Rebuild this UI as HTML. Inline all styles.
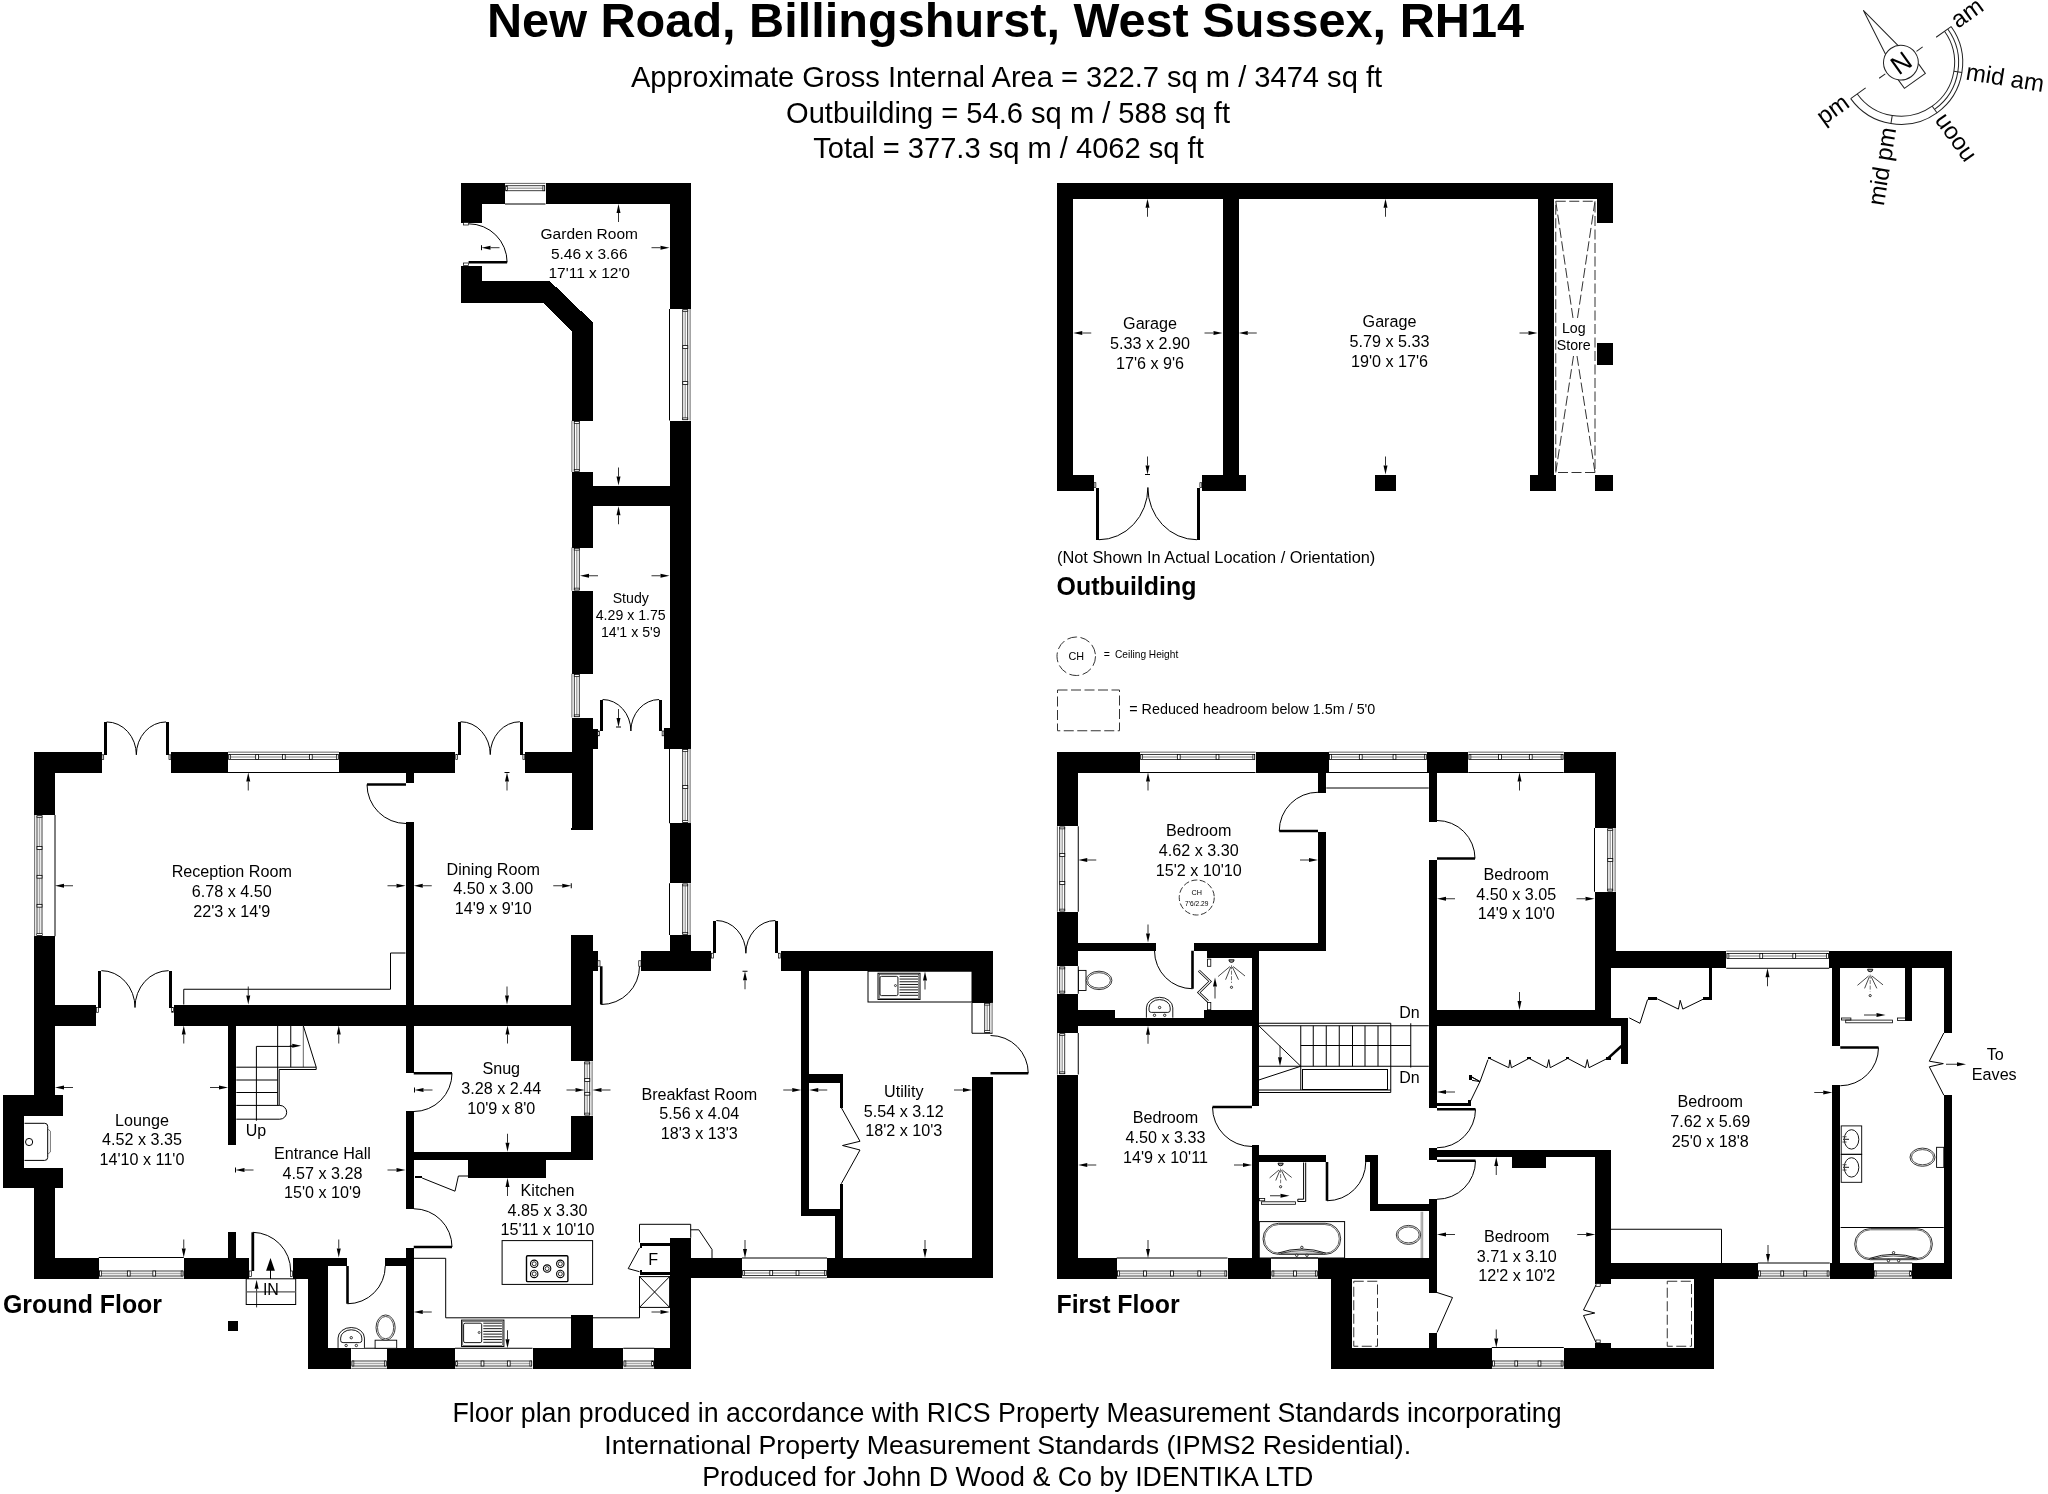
<!DOCTYPE html>
<html><head><meta charset="utf-8"><title>Floor plan</title>
<style>html,body{margin:0;padding:0;background:#fff}svg{display:block;filter:grayscale(1)}</style></head>
<body>
<svg width="2048" height="1494" viewBox="0 0 2048 1494">
<rect width="2048" height="1494" fill="#fff"/>
<g fill="#000" stroke="none" shape-rendering="crispEdges">
<rect x="460.5" y="183" width="44.5" height="21"/>
<rect x="545.5" y="183" width="145.0" height="21"/>
<rect x="460.5" y="183" width="21.0" height="39.5"/>
<rect x="460.5" y="265.75" width="21.0" height="36.75"/>
<polygon points="460.5,281.25 550,281.25 592.5,322 592.5,420.75 571.5,420.75 571.5,331.25 543,302.5 460.5,302.5"/>
<rect x="669.5" y="183" width="21.0" height="126"/>
<rect x="669.5" y="420.5" width="21.0" height="328.25"/>
<rect x="571.5" y="472" width="21.0" height="75.5"/>
<rect x="571.5" y="485.5" width="119.0" height="20.75"/>
<rect x="571.5" y="590.75" width="21.0" height="83.0"/>
<rect x="571.5" y="717.5" width="21.0" height="111.25"/>
<rect x="571.5" y="728.75" width="26.0" height="20.0"/>
<rect x="664.25" y="728.25" width="26.25" height="20.5"/>
<rect x="34.25" y="751.75" width="67.25" height="20.75"/>
<rect x="171" y="751.75" width="57" height="20.75"/>
<rect x="339" y="751.75" width="116" height="20.75"/>
<rect x="525" y="751.75" width="67.5" height="20.75"/>
<rect x="34.25" y="751.75" width="20.75" height="63.25"/>
<rect x="34.25" y="936.25" width="20.75" height="180.0"/>
<rect x="34.25" y="1167.5" width="20.75" height="111.25"/>
<rect x="3" y="1095" width="60" height="21.25"/>
<rect x="3" y="1167.5" width="60" height="20.5"/>
<rect x="3" y="1095" width="21.25" height="93"/>
<rect x="405.5" y="772.5" width="8.25" height="10.5"/>
<rect x="405.5" y="821.75" width="8.25" height="182.75"/>
<rect x="34.25" y="1004.5" width="62.0" height="21.0"/>
<rect x="173.75" y="1004.5" width="418.75" height="21.0"/>
<rect x="228.3" y="1025.5" width="8.0" height="119.0"/>
<rect x="228.3" y="1232" width="8.0" height="25.5"/>
<rect x="405.5" y="1025.5" width="8.25" height="47.0"/>
<rect x="405.5" y="1111.25" width="8.25" height="97.5"/>
<rect x="405.5" y="1247.5" width="8.25" height="100.75"/>
<rect x="34.25" y="1257.5" width="64.5" height="21.25"/>
<rect x="183.75" y="1257.5" width="65.0" height="21.25"/>
<rect x="292.5" y="1257.5" width="54.25" height="8.75"/>
<rect x="292.5" y="1257.5" width="35.75" height="21.25"/>
<rect x="385" y="1257.5" width="20.5" height="8.0"/>
<rect x="308" y="1257.5" width="20.25" height="111.25"/>
<rect x="308" y="1348.25" width="43.25" height="20.5"/>
<rect x="387" y="1348.25" width="68" height="20.5"/>
<rect x="228" y="1320.5" width="10.25" height="10.0"/>
<rect x="571.25" y="1025.5" width="21.25" height="35.75"/>
<rect x="571.25" y="1115.75" width="21.25" height="44.25"/>
<rect x="413.75" y="1151.75" width="178.75" height="8.25"/>
<rect x="468" y="1160" width="77.75" height="18"/>
<rect x="669.5" y="1237.5" width="21.0" height="131.25"/>
<rect x="669.5" y="1258" width="72.5" height="20.25"/>
<rect x="532.5" y="1348.25" width="90.75" height="20.5"/>
<rect x="654.25" y="1348.25" width="36.25" height="20.5"/>
<rect x="571.25" y="1315" width="21.25" height="33.25"/>
<rect x="571.25" y="828" width="21.25" height="1.5"/>
<rect x="571.25" y="935" width="21.25" height="126.25"/>
<rect x="571.25" y="950.5" width="26.25" height="20.25"/>
<rect x="669.5" y="823.25" width="21.0" height="60.0"/>
<rect x="669.5" y="935" width="21.0" height="17"/>
<rect x="641.25" y="950.5" width="70.0" height="20.25"/>
<rect x="780.5" y="950.5" width="212.0" height="20.25"/>
<rect x="972" y="950.5" width="20.5" height="52.0"/>
<rect x="972" y="1076.75" width="20.5" height="201.5"/>
<rect x="827" y="1258" width="165.5" height="20.25"/>
<rect x="801.25" y="970.75" width="8.0" height="245.5"/>
<rect x="809.25" y="1074.25" width="33.75" height="8.25"/>
<rect x="839.5" y="1082.5" width="3.5" height="25.0"/>
<rect x="839.5" y="1183.75" width="3.5" height="25.5"/>
<rect x="801.25" y="1209.25" width="41.75" height="7.0"/>
<rect x="835" y="1216.25" width="7.5" height="41.75"/>
<rect x="1057" y="183" width="556.25" height="15.75"/>
<rect x="1057" y="183" width="16.25" height="307.75"/>
<rect x="1057" y="474.5" width="36.75" height="16.25"/>
<rect x="1202" y="474.5" width="44.25" height="16.25"/>
<rect x="1222.5" y="198.75" width="16.25" height="275.75"/>
<rect x="1374.5" y="474.5" width="21.25" height="16.25"/>
<rect x="1537.5" y="198.75" width="16.25" height="275.75"/>
<rect x="1529.5" y="474.5" width="26.75" height="16.25"/>
<rect x="1597" y="198.75" width="16.25" height="23.75"/>
<rect x="1597" y="343.25" width="16.25" height="21.25"/>
<rect x="1594.5" y="474.5" width="18.75" height="16.25"/>
<rect x="1057" y="751.75" width="83" height="20.75"/>
<rect x="1255.5" y="751.75" width="73.25" height="20.75"/>
<rect x="1427" y="751.75" width="41.25" height="20.75"/>
<rect x="1563.75" y="751.75" width="51.75" height="20.75"/>
<rect x="1057" y="751.75" width="21.25" height="74.5"/>
<rect x="1057" y="911.75" width="21.25" height="54.5"/>
<rect x="1057" y="993.75" width="21.25" height="39.25"/>
<rect x="1057" y="1074.5" width="21.25" height="204.25"/>
<rect x="1318" y="772.5" width="8.25" height="20.5"/>
<rect x="1318" y="831.75" width="8.25" height="119.0"/>
<rect x="1078.25" y="942.5" width="77.25" height="8.25"/>
<rect x="1193.75" y="942.5" width="132.5" height="8.25"/>
<rect x="1252" y="950.75" width="6.75" height="155.5"/>
<rect x="1206.75" y="950.75" width="45.25" height="7.25"/>
<rect x="1057" y="1017.5" width="201.75" height="8.25"/>
<rect x="1078.25" y="1009.5" width="36.25" height="8.0"/>
<rect x="1204.25" y="1009.5" width="47.75" height="8.0"/>
<rect x="1428.75" y="772.5" width="8.25" height="49.25"/>
<rect x="1428.75" y="860" width="8.25" height="248"/>
<rect x="1428.75" y="1147.5" width="8.25" height="12.0"/>
<rect x="1428.75" y="1199.25" width="8.25" height="93.25"/>
<rect x="1428.75" y="1332.5" width="8.25" height="15.5"/>
<rect x="1428.75" y="1010" width="165.75" height="15.75"/>
<rect x="1594.5" y="1017.5" width="33.5" height="8.25"/>
<rect x="1594.5" y="751.75" width="21.0" height="76.25"/>
<rect x="1594.5" y="891.75" width="21.0" height="76.5"/>
<rect x="1594.5" y="968.25" width="16.0" height="49.25"/>
<rect x="1620.75" y="1017.5" width="7.25" height="46.75"/>
<rect x="1594.5" y="950.75" width="131.75" height="17.5"/>
<rect x="1829.25" y="950.75" width="122.25" height="17.5"/>
<rect x="1832.25" y="968.25" width="8.0" height="78.0"/>
<rect x="1832.25" y="1085" width="8.0" height="178"/>
<rect x="1943.5" y="950.75" width="8.0" height="82.25"/>
<rect x="1943.5" y="1095" width="8.0" height="183.75"/>
<rect x="1904.75" y="968.25" width="7.5" height="52.25"/>
<rect x="1595.25" y="1263" width="162.5" height="15.75"/>
<rect x="1829.75" y="1263" width="43.75" height="15.75"/>
<rect x="1912.25" y="1263" width="39.25" height="15.75"/>
<rect x="1437" y="1150" width="173.5" height="7"/>
<rect x="1512" y="1157" width="34" height="10.75"/>
<rect x="1595.25" y="1150" width="15.25" height="133.75"/>
<rect x="1595.25" y="1342.5" width="15.25" height="5.5"/>
<rect x="1057" y="1258" width="59.75" height="20.75"/>
<rect x="1227.5" y="1258" width="43.75" height="20.75"/>
<rect x="1318" y="1258" width="119" height="20.75"/>
<rect x="1252" y="1144.5" width="6.75" height="113.5"/>
<rect x="1258.75" y="1155" width="67.5" height="7"/>
<rect x="1364.5" y="1155" width="13.0" height="7"/>
<rect x="1370" y="1162" width="7.5" height="49.25"/>
<rect x="1370" y="1203.75" width="67" height="7.5"/>
<rect x="1330.75" y="1278.75" width="21.0" height="90.0"/>
<rect x="1330.75" y="1347.5" width="161.0" height="21.25"/>
<rect x="1563.75" y="1347.5" width="150.25" height="21.25"/>
<rect x="1694" y="1278.75" width="20" height="90.0"/>
<rect x="103.69999999999999" y="721.9499999999999" width="3" height="32.85000000000001"/>
<rect x="166.0" y="721.9499999999999" width="3" height="32.85000000000001"/>
<rect x="457.6" y="721.75" width="3" height="32.84999999999998"/>
<rect x="519.9" y="721.75" width="3" height="32.84999999999998"/>
<rect x="98.35" y="970.65" width="3" height="36.85000000000001"/>
<rect x="168.65" y="970.65" width="3" height="36.85000000000001"/>
<rect x="599.6" y="699.525" width="3" height="31.474999999999977"/>
<rect x="659.15" y="699.525" width="3" height="31.474999999999977"/>
<rect x="713.35" y="920.525" width="3" height="32.72499999999998"/>
<rect x="775.4" y="920.525" width="3" height="32.72499999999998"/>
<rect x="1095.85" y="487.5" width="3" height="52.225000000000094"/>
<rect x="1196.9" y="487.5" width="3" height="52.225000000000094"/>
<rect x="414.7" y="1176" width="7.4" height="2"/>
<rect x="639.5" y="1242.5" width="30.1" height="3.1"/>
<rect x="639.5" y="1245.6" width="2.2" height="2.3"/>
<rect x="639.5" y="1271.7" width="30.1" height="3.4"/>
<rect x="639.5" y="1270.4" width="2.2" height="1.3"/>
<rect x="1709.2" y="968.25" width="2.6" height="31.95"/>
<rect x="1703" y="997.4" width="8.8" height="2.8"/>
<rect x="1647.6" y="997.4" width="9.6" height="2.8"/>
<rect x="1487.9" y="1056.7" width="3.2" height="2.7"/>
<rect x="1527.4" y="1056.7" width="3.2" height="2.7"/>
<rect x="1566.2" y="1056.7" width="3.2" height="2.7"/>
<rect x="1605.5" y="1056.7" width="5.5" height="2.9"/>
<rect x="1469" y="1075" width="3.4" height="4.8"/>
<rect x="1468.2" y="1100.3" width="2.9" height="4.0"/>
<rect x="1437" y="1103.3" width="34.1" height="2.4"/>
</g>
<g fill="none" stroke="#000" stroke-width="1">
<path d="M505 183.4 L545.5 183.4" stroke="#555" stroke-width="0.9"/>
<rect x="505.8" y="185.75" width="38.9" height="5.0" stroke-width="0.75" fill="none"/>
<path d="M506.5 188.25 L544.0 188.25" stroke="#aaa" stroke-width="1.5"/>
<path d="M505 204 L545.5 204" stroke-width="1"/>
<rect x="505.8" y="185.75" width="1.8" height="5.0" stroke-width="0.7" fill="#fff"/>
<rect x="542.9" y="185.75" width="1.8" height="5.0" stroke-width="0.7" fill="#fff"/>
<path d="M690.1 309 L690.1 420.5" stroke="#555" stroke-width="0.9"/>
<rect x="682.75" y="309.8" width="5.0" height="109.9" stroke-width="0.75" fill="none"/>
<path d="M685.25 310.5 L685.25 419.0" stroke="#aaa" stroke-width="1.5"/>
<path d="M669.5 309 L669.5 420.5" stroke-width="1"/>
<rect x="682.75" y="345.6" width="5.0" height="2.8" stroke-width="0.8" fill="#fff"/>
<rect x="682.75" y="381.6" width="5.0" height="2.8" stroke-width="0.8" fill="#fff"/>
<rect x="682.75" y="309.8" width="5.0" height="1.8" stroke-width="0.7" fill="#fff"/>
<rect x="682.75" y="417.9" width="5.0" height="1.8" stroke-width="0.7" fill="#fff"/>
<path d="M571.9 420.75 L571.9 472" stroke="#555" stroke-width="0.9"/>
<rect x="574.25" y="421.55" width="5.0" height="49.65" stroke-width="0.75" fill="none"/>
<path d="M576.75 422.25 L576.75 470.5" stroke="#aaa" stroke-width="1.5"/>
<rect x="574.25" y="421.55" width="5.0" height="1.8" stroke-width="0.7" fill="#fff"/>
<rect x="574.25" y="469.4" width="5.0" height="1.8" stroke-width="0.7" fill="#fff"/>
<path d="M571.9 547.5 L571.9 590.75" stroke="#555" stroke-width="0.9"/>
<rect x="574.25" y="548.3" width="5.0" height="41.65" stroke-width="0.75" fill="none"/>
<path d="M576.75 549.0 L576.75 589.25" stroke="#aaa" stroke-width="1.5"/>
<rect x="574.25" y="548.3" width="5.0" height="1.8" stroke-width="0.7" fill="#fff"/>
<rect x="574.25" y="588.15" width="5.0" height="1.8" stroke-width="0.7" fill="#fff"/>
<path d="M571.9 673.75 L571.9 717.5" stroke="#555" stroke-width="0.9"/>
<rect x="574.25" y="674.55" width="5.0" height="42.15" stroke-width="0.75" fill="none"/>
<path d="M576.75 675.25 L576.75 716.0" stroke="#aaa" stroke-width="1.5"/>
<rect x="574.25" y="674.55" width="5.0" height="1.8" stroke-width="0.7" fill="#fff"/>
<rect x="574.25" y="714.9" width="5.0" height="1.8" stroke-width="0.7" fill="#fff"/>
<path d="M690.1 748.75 L690.1 823.25" stroke="#555" stroke-width="0.9"/>
<rect x="682.75" y="749.55" width="5.0" height="72.9" stroke-width="0.75" fill="none"/>
<path d="M685.25 750.25 L685.25 821.75" stroke="#aaa" stroke-width="1.5"/>
<path d="M669.5 748.75 L669.5 823.25" stroke-width="1"/>
<rect x="682.75" y="785.6" width="5.0" height="2.8" stroke-width="0.8" fill="#fff"/>
<rect x="682.75" y="749.55" width="5.0" height="1.8" stroke-width="0.7" fill="#fff"/>
<rect x="682.75" y="820.65" width="5.0" height="1.8" stroke-width="0.7" fill="#fff"/>
<path d="M690.1 883.25 L690.1 935" stroke="#555" stroke-width="0.9"/>
<rect x="682.75" y="884.05" width="5.0" height="50.15" stroke-width="0.75" fill="none"/>
<path d="M685.25 884.75 L685.25 933.5" stroke="#aaa" stroke-width="1.5"/>
<path d="M669.5 883.25 L669.5 935" stroke-width="1"/>
<rect x="682.75" y="884.05" width="5.0" height="1.8" stroke-width="0.7" fill="#fff"/>
<rect x="682.75" y="932.4" width="5.0" height="1.8" stroke-width="0.7" fill="#fff"/>
<path d="M228 752.15 L339 752.15" stroke="#555" stroke-width="0.9"/>
<rect x="228.8" y="754.5" width="109.4" height="5.0" stroke-width="0.75" fill="none"/>
<path d="M229.5 757.0 L337.5 757.0" stroke="#aaa" stroke-width="1.5"/>
<path d="M228 772.5 L339 772.5" stroke-width="1"/>
<rect x="255.70000000000002" y="754.5" width="2.8" height="5.0" stroke-width="0.8" fill="#fff"/>
<rect x="282.40000000000003" y="754.5" width="2.8" height="5.0" stroke-width="0.8" fill="#fff"/>
<rect x="309.40000000000003" y="754.5" width="2.8" height="5.0" stroke-width="0.8" fill="#fff"/>
<rect x="228.8" y="754.5" width="1.8" height="5.0" stroke-width="0.7" fill="#fff"/>
<rect x="336.4" y="754.5" width="1.8" height="5.0" stroke-width="0.7" fill="#fff"/>
<path d="M34.65 815 L34.65 936.25" stroke="#555" stroke-width="0.9"/>
<rect x="37.0" y="815.8" width="5.0" height="119.65" stroke-width="0.75" fill="none"/>
<path d="M39.5 816.5 L39.5 934.75" stroke="#aaa" stroke-width="1.5"/>
<path d="M55 815 L55 936.25" stroke-width="1"/>
<rect x="37.0" y="846.6" width="5.0" height="2.8" stroke-width="0.8" fill="#fff"/>
<rect x="37.0" y="875.35" width="5.0" height="2.8" stroke-width="0.8" fill="#fff"/>
<rect x="37.0" y="904.35" width="5.0" height="2.8" stroke-width="0.8" fill="#fff"/>
<rect x="37.0" y="815.8" width="5.0" height="1.8" stroke-width="0.7" fill="#fff"/>
<rect x="37.0" y="933.65" width="5.0" height="1.8" stroke-width="0.7" fill="#fff"/>
<path d="M592.1 1061.25 L592.1 1115.75" stroke="#555" stroke-width="0.9"/>
<rect x="584.75" y="1062.05" width="5.0" height="52.9" stroke-width="0.75" fill="none"/>
<path d="M587.25 1062.75 L587.25 1114.25" stroke="#aaa" stroke-width="1.5"/>
<rect x="584.75" y="1078.6" width="5.0" height="2.8" stroke-width="0.8" fill="#fff"/>
<rect x="584.75" y="1092.35" width="5.0" height="2.8" stroke-width="0.8" fill="#fff"/>
<rect x="584.75" y="1062.05" width="5.0" height="1.8" stroke-width="0.7" fill="#fff"/>
<rect x="584.75" y="1113.15" width="5.0" height="1.8" stroke-width="0.7" fill="#fff"/>
<path d="M98.75 1278.35 L183.75 1278.35" stroke="#555" stroke-width="0.9"/>
<rect x="99.55" y="1271.0" width="83.4" height="5.0" stroke-width="0.75" fill="none"/>
<path d="M100.25 1273.5 L182.25 1273.5" stroke="#aaa" stroke-width="1.5"/>
<path d="M98.75 1257.5 L183.75 1257.5" stroke-width="1"/>
<rect x="127.35" y="1271.0" width="2.8" height="5.0" stroke-width="0.8" fill="#fff"/>
<rect x="152.85" y="1271.0" width="2.8" height="5.0" stroke-width="0.8" fill="#fff"/>
<rect x="99.55" y="1271.0" width="1.8" height="5.0" stroke-width="0.7" fill="#fff"/>
<rect x="181.15" y="1271.0" width="1.8" height="5.0" stroke-width="0.7" fill="#fff"/>
<path d="M351.25 1368.35 L387 1368.35" stroke="#555" stroke-width="0.9"/>
<rect x="352.05" y="1361.0" width="34.15" height="5.0" stroke-width="0.75" fill="none"/>
<path d="M352.75 1363.5 L385.5 1363.5" stroke="#aaa" stroke-width="1.5"/>
<path d="M351.25 1348.25 L387 1348.25" stroke-width="1"/>
<rect x="352.05" y="1361.0" width="1.8" height="5.0" stroke-width="0.7" fill="#fff"/>
<rect x="384.4" y="1361.0" width="1.8" height="5.0" stroke-width="0.7" fill="#fff"/>
<path d="M455 1368.35 L532.5 1368.35" stroke="#555" stroke-width="0.9"/>
<rect x="455.8" y="1361.0" width="75.9" height="5.0" stroke-width="0.75" fill="none"/>
<path d="M456.5 1363.5 L531.0 1363.5" stroke="#aaa" stroke-width="1.5"/>
<path d="M455 1348.25 L532.5 1348.25" stroke-width="1"/>
<rect x="481.1" y="1361.0" width="2.8" height="5.0" stroke-width="0.8" fill="#fff"/>
<rect x="507.35" y="1361.0" width="2.8" height="5.0" stroke-width="0.8" fill="#fff"/>
<rect x="455.8" y="1361.0" width="1.8" height="5.0" stroke-width="0.7" fill="#fff"/>
<rect x="529.9" y="1361.0" width="1.8" height="5.0" stroke-width="0.7" fill="#fff"/>
<path d="M623.25 1368.35 L654.25 1368.35" stroke="#555" stroke-width="0.9"/>
<rect x="624.05" y="1361.0" width="29.4" height="5.0" stroke-width="0.75" fill="none"/>
<path d="M624.75 1363.5 L652.75 1363.5" stroke="#aaa" stroke-width="1.5"/>
<path d="M623.25 1348.25 L654.25 1348.25" stroke-width="1"/>
<rect x="624.05" y="1361.0" width="1.8" height="5.0" stroke-width="0.7" fill="#fff"/>
<rect x="651.65" y="1361.0" width="1.8" height="5.0" stroke-width="0.7" fill="#fff"/>
<path d="M742 1277.85 L827 1277.85" stroke="#555" stroke-width="0.9"/>
<rect x="742.8" y="1270.5" width="83.4" height="5.0" stroke-width="0.75" fill="none"/>
<path d="M743.5 1273.0 L825.5 1273.0" stroke="#aaa" stroke-width="1.5"/>
<path d="M742 1258 L827 1258" stroke-width="1"/>
<rect x="769.85" y="1270.5" width="2.8" height="5.0" stroke-width="0.8" fill="#fff"/>
<rect x="796.1" y="1270.5" width="2.8" height="5.0" stroke-width="0.8" fill="#fff"/>
<rect x="742.8" y="1270.5" width="1.8" height="5.0" stroke-width="0.7" fill="#fff"/>
<rect x="824.4" y="1270.5" width="1.8" height="5.0" stroke-width="0.7" fill="#fff"/>
<path d="M992.1 1002.5 L992.1 1033.25" stroke="#555" stroke-width="0.9"/>
<rect x="984.75" y="1003.3" width="5.0" height="29.15" stroke-width="0.75" fill="none"/>
<path d="M987.25 1004.0 L987.25 1031.75" stroke="#aaa" stroke-width="1.5"/>
<path d="M972 1002.5 L972 1033.25" stroke-width="1"/>
<rect x="984.75" y="1003.3" width="5.0" height="1.8" stroke-width="0.7" fill="#fff"/>
<rect x="984.75" y="1030.65" width="5.0" height="1.8" stroke-width="0.7" fill="#fff"/>
<path d="M972 1033.25 L992.5 1033.25" stroke-width="1"/>
<path d="M1140 752.15 L1255.5 752.15" stroke="#555" stroke-width="0.9"/>
<rect x="1140.8" y="754.5" width="113.9" height="5.0" stroke-width="0.75" fill="none"/>
<path d="M1141.5 757.0 L1254.0 757.0" stroke="#aaa" stroke-width="1.5"/>
<path d="M1140 772.5 L1255.5 772.5" stroke-width="1"/>
<rect x="1177.35" y="754.5" width="2.8" height="5.0" stroke-width="0.8" fill="#fff"/>
<rect x="1216.1" y="754.5" width="2.8" height="5.0" stroke-width="0.8" fill="#fff"/>
<rect x="1140.8" y="754.5" width="1.8" height="5.0" stroke-width="0.7" fill="#fff"/>
<rect x="1252.9" y="754.5" width="1.8" height="5.0" stroke-width="0.7" fill="#fff"/>
<path d="M1328.75 752.15 L1427 752.15" stroke="#555" stroke-width="0.9"/>
<rect x="1329.55" y="754.5" width="96.65" height="5.0" stroke-width="0.75" fill="none"/>
<path d="M1330.25 757.0 L1425.5 757.0" stroke="#aaa" stroke-width="1.5"/>
<path d="M1328.75 772.5 L1427 772.5" stroke-width="1"/>
<rect x="1359.35" y="754.5" width="2.8" height="5.0" stroke-width="0.8" fill="#fff"/>
<rect x="1393.1" y="754.5" width="2.8" height="5.0" stroke-width="0.8" fill="#fff"/>
<rect x="1329.55" y="754.5" width="1.8" height="5.0" stroke-width="0.7" fill="#fff"/>
<rect x="1424.4" y="754.5" width="1.8" height="5.0" stroke-width="0.7" fill="#fff"/>
<path d="M1468.25 752.15 L1563.75 752.15" stroke="#555" stroke-width="0.9"/>
<rect x="1469.05" y="754.5" width="93.9" height="5.0" stroke-width="0.75" fill="none"/>
<path d="M1469.75 757.0 L1562.25 757.0" stroke="#aaa" stroke-width="1.5"/>
<path d="M1468.25 772.5 L1563.75 772.5" stroke-width="1"/>
<rect x="1498.6" y="754.5" width="2.8" height="5.0" stroke-width="0.8" fill="#fff"/>
<rect x="1529.35" y="754.5" width="2.8" height="5.0" stroke-width="0.8" fill="#fff"/>
<rect x="1469.05" y="754.5" width="1.8" height="5.0" stroke-width="0.7" fill="#fff"/>
<rect x="1561.15" y="754.5" width="1.8" height="5.0" stroke-width="0.7" fill="#fff"/>
<path d="M1057.4 826.25 L1057.4 911.75" stroke="#555" stroke-width="0.9"/>
<rect x="1059.75" y="827.05" width="5.0" height="83.9" stroke-width="0.75" fill="none"/>
<path d="M1062.25 827.75 L1062.25 910.25" stroke="#aaa" stroke-width="1.5"/>
<path d="M1078.25 826.25 L1078.25 911.75" stroke-width="1"/>
<rect x="1059.75" y="853.6" width="5.0" height="2.8" stroke-width="0.8" fill="#fff"/>
<rect x="1059.75" y="881.6" width="5.0" height="2.8" stroke-width="0.8" fill="#fff"/>
<rect x="1059.75" y="827.05" width="5.0" height="1.8" stroke-width="0.7" fill="#fff"/>
<rect x="1059.75" y="909.15" width="5.0" height="1.8" stroke-width="0.7" fill="#fff"/>
<path d="M1057.4 966.25 L1057.4 993.75" stroke="#555" stroke-width="0.9"/>
<rect x="1059.75" y="967.05" width="5.0" height="25.9" stroke-width="0.75" fill="none"/>
<path d="M1062.25 967.75 L1062.25 992.25" stroke="#aaa" stroke-width="1.5"/>
<path d="M1078.25 966.25 L1078.25 993.75" stroke-width="1"/>
<rect x="1059.75" y="967.05" width="5.0" height="1.8" stroke-width="0.7" fill="#fff"/>
<rect x="1059.75" y="991.15" width="5.0" height="1.8" stroke-width="0.7" fill="#fff"/>
<path d="M1057.4 1033 L1057.4 1074.5" stroke="#555" stroke-width="0.9"/>
<rect x="1059.75" y="1033.8" width="5.0" height="39.9" stroke-width="0.75" fill="none"/>
<path d="M1062.25 1034.5 L1062.25 1073.0" stroke="#aaa" stroke-width="1.5"/>
<path d="M1078.25 1033 L1078.25 1074.5" stroke-width="1"/>
<rect x="1059.75" y="1033.8" width="5.0" height="1.8" stroke-width="0.7" fill="#fff"/>
<rect x="1059.75" y="1071.9" width="5.0" height="1.8" stroke-width="0.7" fill="#fff"/>
<path d="M1615.1 828 L1615.1 891.75" stroke="#555" stroke-width="0.9"/>
<rect x="1607.75" y="828.8" width="5.0" height="62.15" stroke-width="0.75" fill="none"/>
<path d="M1610.25 829.5 L1610.25 890.25" stroke="#aaa" stroke-width="1.5"/>
<path d="M1594.5 828 L1594.5 891.75" stroke-width="1"/>
<rect x="1607.75" y="858.6" width="5.0" height="2.8" stroke-width="0.8" fill="#fff"/>
<rect x="1607.75" y="828.8" width="5.0" height="1.8" stroke-width="0.7" fill="#fff"/>
<rect x="1607.75" y="889.15" width="5.0" height="1.8" stroke-width="0.7" fill="#fff"/>
<path d="M1726.25 951.15 L1829.25 951.15" stroke="#555" stroke-width="0.9"/>
<rect x="1727.05" y="953.5" width="101.4" height="5.0" stroke-width="0.75" fill="none"/>
<path d="M1727.75 956.0 L1827.75 956.0" stroke="#aaa" stroke-width="1.5"/>
<path d="M1726.25 968.25 L1829.25 968.25" stroke-width="1"/>
<rect x="1759.85" y="953.5" width="2.8" height="5.0" stroke-width="0.8" fill="#fff"/>
<rect x="1792.85" y="953.5" width="2.8" height="5.0" stroke-width="0.8" fill="#fff"/>
<rect x="1727.05" y="953.5" width="1.8" height="5.0" stroke-width="0.7" fill="#fff"/>
<rect x="1826.65" y="953.5" width="1.8" height="5.0" stroke-width="0.7" fill="#fff"/>
<path d="M1116.75 1278.35 L1227.5 1278.35" stroke="#555" stroke-width="0.9"/>
<rect x="1117.55" y="1271.0" width="109.15" height="5.0" stroke-width="0.75" fill="none"/>
<path d="M1118.25 1273.5 L1226.0 1273.5" stroke="#aaa" stroke-width="1.5"/>
<path d="M1116.75 1258 L1227.5 1258" stroke-width="1"/>
<rect x="1143.6" y="1271.0" width="2.8" height="5.0" stroke-width="0.8" fill="#fff"/>
<rect x="1170.6" y="1271.0" width="2.8" height="5.0" stroke-width="0.8" fill="#fff"/>
<rect x="1197.85" y="1271.0" width="2.8" height="5.0" stroke-width="0.8" fill="#fff"/>
<rect x="1117.55" y="1271.0" width="1.8" height="5.0" stroke-width="0.7" fill="#fff"/>
<rect x="1224.9" y="1271.0" width="1.8" height="5.0" stroke-width="0.7" fill="#fff"/>
<path d="M1271.25 1278.35 L1318 1278.35" stroke="#555" stroke-width="0.9"/>
<rect x="1272.05" y="1271.0" width="45.15" height="5.0" stroke-width="0.75" fill="none"/>
<path d="M1272.75 1273.5 L1316.5 1273.5" stroke="#aaa" stroke-width="1.5"/>
<path d="M1271.25 1258 L1318 1258" stroke-width="1"/>
<rect x="1293.6" y="1271.0" width="2.8" height="5.0" stroke-width="0.8" fill="#fff"/>
<rect x="1272.05" y="1271.0" width="1.8" height="5.0" stroke-width="0.7" fill="#fff"/>
<rect x="1315.4" y="1271.0" width="1.8" height="5.0" stroke-width="0.7" fill="#fff"/>
<path d="M1491.75 1368.35 L1563.75 1368.35" stroke="#555" stroke-width="0.9"/>
<rect x="1492.55" y="1361.0" width="70.4" height="5.0" stroke-width="0.75" fill="none"/>
<path d="M1493.25 1363.5 L1562.25 1363.5" stroke="#aaa" stroke-width="1.5"/>
<path d="M1491.75 1347.5 L1563.75 1347.5" stroke-width="1"/>
<rect x="1514.85" y="1361.0" width="2.8" height="5.0" stroke-width="0.8" fill="#fff"/>
<rect x="1538.1" y="1361.0" width="2.8" height="5.0" stroke-width="0.8" fill="#fff"/>
<rect x="1492.55" y="1361.0" width="1.8" height="5.0" stroke-width="0.7" fill="#fff"/>
<rect x="1561.15" y="1361.0" width="1.8" height="5.0" stroke-width="0.7" fill="#fff"/>
<path d="M1757.75 1278.35 L1829.75 1278.35" stroke="#555" stroke-width="0.9"/>
<rect x="1758.55" y="1271.0" width="70.4" height="5.0" stroke-width="0.75" fill="none"/>
<path d="M1759.25 1273.5 L1828.25 1273.5" stroke="#aaa" stroke-width="1.5"/>
<path d="M1757.75 1263 L1829.75 1263" stroke-width="1"/>
<rect x="1780.85" y="1271.0" width="2.8" height="5.0" stroke-width="0.8" fill="#fff"/>
<rect x="1803.85" y="1271.0" width="2.8" height="5.0" stroke-width="0.8" fill="#fff"/>
<rect x="1758.55" y="1271.0" width="1.8" height="5.0" stroke-width="0.7" fill="#fff"/>
<rect x="1827.15" y="1271.0" width="1.8" height="5.0" stroke-width="0.7" fill="#fff"/>
<path d="M1873.5 1278.35 L1912.25 1278.35" stroke="#555" stroke-width="0.9"/>
<rect x="1874.3" y="1271.0" width="37.15" height="5.0" stroke-width="0.75" fill="none"/>
<path d="M1875.0 1273.5 L1910.75 1273.5" stroke="#aaa" stroke-width="1.5"/>
<path d="M1873.5 1263 L1912.25 1263" stroke-width="1"/>
<rect x="1874.3" y="1271.0" width="1.8" height="5.0" stroke-width="0.7" fill="#fff"/>
<rect x="1909.65" y="1271.0" width="1.8" height="5.0" stroke-width="0.7" fill="#fff"/>
<path d="M106.69999999999999 721.9499999999999 A29.650000000000006 32.85000000000001 0 0 1 136.35 754.8" stroke-width="1" fill="none"/>
<path d="M166.0 721.9499999999999 A29.650000000000006 32.85000000000001 0 0 0 136.35 754.8" stroke-width="1" fill="none"/>
<rect x="101.89999999999999" y="754.8" width="1.8" height="4.8" stroke-width="0.7" fill="#fff"/>
<rect x="169.0" y="754.8" width="1.8" height="4.8" stroke-width="0.7" fill="#fff"/>
<path d="M460.6 721.75 A29.649999999999977 32.84999999999998 0 0 1 490.25 754.6" stroke-width="1" fill="none"/>
<path d="M519.9 721.75 A29.649999999999977 32.84999999999998 0 0 0 490.25 754.6" stroke-width="1" fill="none"/>
<rect x="455.8" y="754.6" width="1.8" height="4.8" stroke-width="0.7" fill="#fff"/>
<rect x="522.9" y="754.6" width="1.8" height="4.8" stroke-width="0.7" fill="#fff"/>
<path d="M101.35 970.65 A33.650000000000006 36.85000000000001 0 0 1 135.0 1007.5" stroke-width="1" fill="none"/>
<path d="M168.65 970.65 A33.650000000000006 36.85000000000001 0 0 0 135.0 1007.5" stroke-width="1" fill="none"/>
<rect x="96.55" y="1007.5" width="1.8" height="4.8" stroke-width="0.7" fill="#fff"/>
<rect x="171.65" y="1007.5" width="1.8" height="4.8" stroke-width="0.7" fill="#fff"/>
<path d="M602.6 699.525 A28.274999999999977 31.474999999999977 0 0 1 630.875 731" stroke-width="1" fill="none"/>
<path d="M659.15 699.525 A28.274999999999977 31.474999999999977 0 0 0 630.875 731" stroke-width="1" fill="none"/>
<rect x="597.8" y="731" width="1.8" height="4.8" stroke-width="0.7" fill="#fff"/>
<rect x="662.15" y="731" width="1.8" height="4.8" stroke-width="0.7" fill="#fff"/>
<path d="M716.35 920.525 A29.524999999999977 32.72499999999998 0 0 1 745.875 953.25" stroke-width="1" fill="none"/>
<path d="M775.4 920.525 A29.524999999999977 32.72499999999998 0 0 0 745.875 953.25" stroke-width="1" fill="none"/>
<rect x="711.55" y="953.25" width="1.8" height="4.8" stroke-width="0.7" fill="#fff"/>
<rect x="778.4" y="953.25" width="1.8" height="4.8" stroke-width="0.7" fill="#fff"/>
<path d="M1098.85 539.7250000000001 A49.02500000000009 52.225000000000094 0 0 0 1147.875 487.5" stroke-width="1" fill="none"/>
<path d="M1196.9 539.7250000000001 A49.02500000000009 52.225000000000094 0 0 1 1147.875 487.5" stroke-width="1" fill="none"/>
<rect x="1094.05" y="482.7" width="1.8" height="4.8" stroke-width="0.7" fill="#fff"/>
<rect x="1199.9" y="482.7" width="1.8" height="4.8" stroke-width="0.7" fill="#fff"/>
<path d="M468.6 262.3 L507.1 262.3" stroke-width="2.6"/>
<path d="M507.1 262.3 A38.5 38.5 0 0 0 468.6 223.8" stroke-width="1" fill="none"/>
<rect x="463.5" y="222.5" width="5.1" height="2.5" stroke-width="0.7" fill="#fff"/>
<rect x="463.5" y="263" width="5.1" height="2.6" stroke-width="0.7" fill="#fff"/>
<path d="M406 784.5 L367 784.5" stroke-width="2.6"/>
<path d="M367 784.5 A39.0 39.0 0 0 0 406 823.5" stroke-width="1" fill="none"/>
<path d="M601.25 966.25 L601.25 1004.5" stroke-width="2.6"/>
<path d="M601.25 1004.5 A38.25 38.25 0 0 0 639.5 966.25" stroke-width="1" fill="none"/>
<rect x="597.8" y="960.75" width="2.2" height="5.5" stroke-width="0.7" fill="#fff"/>
<rect x="638.75" y="960.75" width="2.25" height="5.5" stroke-width="0.7" fill="#fff"/>
<path d="M413.75 1073.25 L452 1073.25" stroke-width="2.6"/>
<path d="M452 1073.25 A38.25 38.25 0 0 1 413.75 1111.5" stroke-width="1" fill="none"/>
<path d="M413.75 1247 L452 1247" stroke-width="2.6"/>
<path d="M452 1247 A38.25 38.25 0 0 0 413.75 1208.75" stroke-width="1" fill="none"/>
<path d="M347.5 1266 L347.5 1303.75" stroke-width="2.6"/>
<path d="M347.5 1303.75 A37.75 37.75 0 0 0 385.25 1266" stroke-width="1" fill="none"/>
<path d="M252.8 1271 L252.8 1232.3" stroke-width="2.8"/>
<path d="M252.8 1232.3 A38.700000000000045 38.700000000000045 0 0 1 290.7 1271" stroke-width="1" fill="none"/>
<path d="M990.5 1073.25 L1028.25 1073.25" stroke-width="2.6"/>
<path d="M1028.25 1073.25 A37.75 37.75 0 0 0 990.5 1035.5" stroke-width="1" fill="none"/>
<path d="M1318 831 L1279.25 831" stroke-width="2.6"/>
<path d="M1279.25 831 A38.75 38.75 0 0 1 1318 792.25" stroke-width="1" fill="none"/>
<path d="M1192.5 950.75 L1192.5 988.75" stroke-width="2.6"/>
<path d="M1192.5 988.75 A38.0 38.0 0 0 1 1154.5 950.75" stroke-width="1" fill="none"/>
<path d="M1437 858.5 L1475 858.5" stroke-width="2.6"/>
<path d="M1475 858.5 A38.0 38.0 0 0 0 1437 820.5" stroke-width="1" fill="none"/>
<path d="M1252 1107 L1212.5 1107" stroke-width="2.6"/>
<path d="M1212.5 1107 A39.5 39.5 0 0 0 1252 1146.5" stroke-width="1" fill="none"/>
<path d="M1327 1162 L1327 1200.75" stroke-width="2.6"/>
<path d="M1327 1200.75 A38.75 38.75 0 0 0 1365.75 1162" stroke-width="1" fill="none"/>
<path d="M1437 1109.25 L1475.5 1109.25" stroke-width="2.6"/>
<path d="M1475.5 1109.25 A38.5 38.5 0 0 1 1437 1147.75" stroke-width="1" fill="none"/>
<path d="M1437 1160.75 L1475.5 1160.75" stroke-width="2.6"/>
<path d="M1475.5 1160.75 A38.5 38.5 0 0 1 1437 1199.25" stroke-width="1" fill="none"/>
<path d="M1840.25 1047.5 L1878.5 1047.5" stroke-width="2.6"/>
<path d="M1878.5 1047.5 A38.25 38.25 0 0 1 1840.25 1085.75" stroke-width="1" fill="none"/>
<path d="M618.5 213 L618.5 222" stroke="#333" stroke-width="1"/>
<path d="M618.5 204 L616.5 213 L620.5 213 Z" fill="#000" stroke="none"/>
<path d="M660.5 247.7 L651.5 247.7" stroke="#333" stroke-width="1"/>
<path d="M669.5 247.7 L660.5 245.7 L660.5 249.7 Z" fill="#000" stroke="none"/>
<path d="M490.5 247.7 L499.5 247.7" stroke="#333" stroke-width="1"/>
<path d="M481.5 247.7 L490.5 245.7 L490.5 249.7 Z" fill="#000" stroke="none"/>
<path d="M481.5 245.2 L481.5 250.2" stroke-width="1"/>
<path d="M618.5 476.5 L618.5 467.5" stroke="#333" stroke-width="1"/>
<path d="M618.5 485.5 L616.5 476.5 L620.5 476.5 Z" fill="#000" stroke="none"/>
<path d="M618.5 515.25 L618.5 524.25" stroke="#333" stroke-width="1"/>
<path d="M618.5 506.25 L616.5 515.25 L620.5 515.25 Z" fill="#000" stroke="none"/>
<path d="M589 575.75 L598 575.75" stroke="#333" stroke-width="1"/>
<path d="M580 575.75 L589 573.75 L589 577.75 Z" fill="#000" stroke="none"/>
<path d="M660.5 575.75 L651.5 575.75" stroke="#333" stroke-width="1"/>
<path d="M669.5 575.75 L660.5 573.75 L660.5 577.75 Z" fill="#000" stroke="none"/>
<path d="M618.5 718 L618.5 709" stroke="#333" stroke-width="1"/>
<path d="M618.5 727 L616.5 718 L620.5 718 Z" fill="#000" stroke="none"/>
<path d="M616.0 727 L621.0 727" stroke-width="1"/>
<path d="M248.25 781.5 L248.25 790.5" stroke="#333" stroke-width="1"/>
<path d="M248.25 772.5 L246.25 781.5 L250.25 781.5 Z" fill="#000" stroke="none"/>
<path d="M64 885.75 L73 885.75" stroke="#333" stroke-width="1"/>
<path d="M55 885.75 L64 883.75 L64 887.75 Z" fill="#000" stroke="none"/>
<path d="M396.5 885.75 L387.5 885.75" stroke="#333" stroke-width="1"/>
<path d="M405.5 885.75 L396.5 883.75 L396.5 887.75 Z" fill="#000" stroke="none"/>
<path d="M248.25 995.5 L248.25 986.5" stroke="#333" stroke-width="1"/>
<path d="M248.25 1004.5 L246.25 995.5 L250.25 995.5 Z" fill="#000" stroke="none"/>
<path d="M507 781.5 L507 790.5" stroke="#333" stroke-width="1"/>
<path d="M507 772.5 L505.0 781.5 L509.0 781.5 Z" fill="#000" stroke="none"/>
<path d="M504.5 772.5 L509.5 772.5" stroke-width="1"/>
<path d="M422.75 885.75 L431.75 885.75" stroke="#333" stroke-width="1"/>
<path d="M413.75 885.75 L422.75 883.75 L422.75 887.75 Z" fill="#000" stroke="none"/>
<path d="M562.25 885.75 L553.25 885.75" stroke="#333" stroke-width="1"/>
<path d="M571.25 885.75 L562.25 883.75 L562.25 887.75 Z" fill="#000" stroke="none"/>
<path d="M571.25 883.25 L571.25 888.25" stroke-width="1"/>
<path d="M507 995.5 L507 986.5" stroke="#333" stroke-width="1"/>
<path d="M507 1004.5 L505.0 995.5 L509.0 995.5 Z" fill="#000" stroke="none"/>
<path d="M183.75 1034.5 L183.75 1043.5" stroke="#333" stroke-width="1"/>
<path d="M183.75 1025.5 L181.75 1034.5 L185.75 1034.5 Z" fill="#000" stroke="none"/>
<path d="M183.75 1248.5 L183.75 1239.5" stroke="#333" stroke-width="1"/>
<path d="M183.75 1257.5 L181.75 1248.5 L185.75 1248.5 Z" fill="#000" stroke="none"/>
<path d="M64 1087.5 L73 1087.5" stroke="#333" stroke-width="1"/>
<path d="M55 1087.5 L64 1085.5 L64 1089.5 Z" fill="#000" stroke="none"/>
<path d="M219 1087.5 L210 1087.5" stroke="#333" stroke-width="1"/>
<path d="M228 1087.5 L219 1085.5 L219 1089.5 Z" fill="#000" stroke="none"/>
<path d="M338.75 1034.5 L338.75 1043.5" stroke="#333" stroke-width="1"/>
<path d="M338.75 1025.5 L336.75 1034.5 L340.75 1034.5 Z" fill="#000" stroke="none"/>
<path d="M338.75 1248.5 L338.75 1239.5" stroke="#333" stroke-width="1"/>
<path d="M338.75 1257.5 L336.75 1248.5 L340.75 1248.5 Z" fill="#000" stroke="none"/>
<path d="M244.5 1170 L253.5 1170" stroke="#333" stroke-width="1"/>
<path d="M235.5 1170 L244.5 1168.0 L244.5 1172.0 Z" fill="#000" stroke="none"/>
<path d="M235.5 1167.5 L235.5 1172.5" stroke-width="1"/>
<path d="M396.5 1170 L387.5 1170" stroke="#333" stroke-width="1"/>
<path d="M405.5 1170 L396.5 1168.0 L396.5 1172.0 Z" fill="#000" stroke="none"/>
<path d="M507.5 1034.5 L507.5 1043.5" stroke="#333" stroke-width="1"/>
<path d="M507.5 1025.5 L505.5 1034.5 L509.5 1034.5 Z" fill="#000" stroke="none"/>
<path d="M507.5 1142.75 L507.5 1133.75" stroke="#333" stroke-width="1"/>
<path d="M507.5 1151.75 L505.5 1142.75 L509.5 1142.75 Z" fill="#000" stroke="none"/>
<path d="M423.5 1090 L432.5 1090" stroke="#333" stroke-width="1"/>
<path d="M414.5 1090 L423.5 1088.0 L423.5 1092.0 Z" fill="#000" stroke="none"/>
<path d="M414.5 1087.5 L414.5 1092.5" stroke-width="1"/>
<path d="M575.5 1090 L566.5 1090" stroke="#333" stroke-width="1"/>
<path d="M584.5 1090 L575.5 1088.0 L575.5 1092.0 Z" fill="#000" stroke="none"/>
<path d="M601.5 1090 L610.5 1090" stroke="#333" stroke-width="1"/>
<path d="M592.5 1090 L601.5 1088.0 L601.5 1092.0 Z" fill="#000" stroke="none"/>
<path d="M792.25 1090 L783.25 1090" stroke="#333" stroke-width="1"/>
<path d="M801.25 1090 L792.25 1088.0 L792.25 1092.0 Z" fill="#000" stroke="none"/>
<path d="M745 980.25 L745 989.25" stroke="#333" stroke-width="1"/>
<path d="M745 971.25 L743.0 980.25 L747.0 980.25 Z" fill="#000" stroke="none"/>
<path d="M742.5 971.25 L747.5 971.25" stroke-width="1"/>
<path d="M745 1249 L745 1240" stroke="#333" stroke-width="1"/>
<path d="M745 1258 L743.0 1249 L747.0 1249 Z" fill="#000" stroke="none"/>
<path d="M507.5 1187 L507.5 1196" stroke="#333" stroke-width="1"/>
<path d="M507.5 1178 L505.5 1187 L509.5 1187 Z" fill="#000" stroke="none"/>
<path d="M507.5 1339.25 L507.5 1330.25" stroke="#333" stroke-width="1"/>
<path d="M507.5 1348.25 L505.5 1339.25 L509.5 1339.25 Z" fill="#000" stroke="none"/>
<path d="M422.75 1312 L431.75 1312" stroke="#333" stroke-width="1"/>
<path d="M413.75 1312 L422.75 1310.0 L422.75 1314.0 Z" fill="#000" stroke="none"/>
<path d="M660.5 1312 L651.5 1312" stroke="#333" stroke-width="1"/>
<path d="M669.5 1312 L660.5 1310.0 L660.5 1314.0 Z" fill="#000" stroke="none"/>
<path d="M818.25 1090 L827.25 1090" stroke="#333" stroke-width="1"/>
<path d="M809.25 1090 L818.25 1088.0 L818.25 1092.0 Z" fill="#000" stroke="none"/>
<path d="M963 1090 L954 1090" stroke="#333" stroke-width="1"/>
<path d="M972 1090 L963 1088.0 L963 1092.0 Z" fill="#000" stroke="none"/>
<path d="M925 980.5 L925 989.5" stroke="#333" stroke-width="1"/>
<path d="M925 971.5 L923.0 980.5 L927.0 980.5 Z" fill="#000" stroke="none"/>
<path d="M925 1249 L925 1240" stroke="#333" stroke-width="1"/>
<path d="M925 1258 L923.0 1249 L927.0 1249 Z" fill="#000" stroke="none"/>
<path d="M1147.5 207.75 L1147.5 216.75" stroke="#333" stroke-width="1"/>
<path d="M1147.5 198.75 L1145.5 207.75 L1149.5 207.75 Z" fill="#000" stroke="none"/>
<path d="M1147.5 465.5 L1147.5 456.5" stroke="#333" stroke-width="1"/>
<path d="M1147.5 474.5 L1145.5 465.5 L1149.5 465.5 Z" fill="#000" stroke="none"/>
<path d="M1145.0 474.5 L1150.0 474.5" stroke-width="1"/>
<path d="M1082.25 333 L1091.25 333" stroke="#333" stroke-width="1"/>
<path d="M1073.25 333 L1082.25 331.0 L1082.25 335.0 Z" fill="#000" stroke="none"/>
<path d="M1213.5 333 L1204.5 333" stroke="#333" stroke-width="1"/>
<path d="M1222.5 333 L1213.5 331.0 L1213.5 335.0 Z" fill="#000" stroke="none"/>
<path d="M1247.75 333 L1256.75 333" stroke="#333" stroke-width="1"/>
<path d="M1238.75 333 L1247.75 331.0 L1247.75 335.0 Z" fill="#000" stroke="none"/>
<path d="M1385.5 207.75 L1385.5 216.75" stroke="#333" stroke-width="1"/>
<path d="M1385.5 198.75 L1383.5 207.75 L1387.5 207.75 Z" fill="#000" stroke="none"/>
<path d="M1385.5 465.5 L1385.5 456.5" stroke="#333" stroke-width="1"/>
<path d="M1385.5 474.5 L1383.5 465.5 L1387.5 465.5 Z" fill="#000" stroke="none"/>
<path d="M1528.5 333 L1519.5 333" stroke="#333" stroke-width="1"/>
<path d="M1537.5 333 L1528.5 331.0 L1528.5 335.0 Z" fill="#000" stroke="none"/>
<path d="M1148 781.5 L1148 790.5" stroke="#333" stroke-width="1"/>
<path d="M1148 772.5 L1146.0 781.5 L1150.0 781.5 Z" fill="#000" stroke="none"/>
<path d="M1148 933.5 L1148 924.5" stroke="#333" stroke-width="1"/>
<path d="M1148 942.5 L1146.0 933.5 L1150.0 933.5 Z" fill="#000" stroke="none"/>
<path d="M1087.25 860 L1096.25 860" stroke="#333" stroke-width="1"/>
<path d="M1078.25 860 L1087.25 858.0 L1087.25 862.0 Z" fill="#000" stroke="none"/>
<path d="M1309 860 L1300 860" stroke="#333" stroke-width="1"/>
<path d="M1318 860 L1309 858.0 L1309 862.0 Z" fill="#000" stroke="none"/>
<path d="M1148 1034.75 L1148 1043.75" stroke="#333" stroke-width="1"/>
<path d="M1148 1025.75 L1146.0 1034.75 L1150.0 1034.75 Z" fill="#000" stroke="none"/>
<path d="M1148 1249 L1148 1240" stroke="#333" stroke-width="1"/>
<path d="M1148 1258 L1146.0 1249 L1150.0 1249 Z" fill="#000" stroke="none"/>
<path d="M1087.25 1165 L1096.25 1165" stroke="#333" stroke-width="1"/>
<path d="M1078.25 1165 L1087.25 1163.0 L1087.25 1167.0 Z" fill="#000" stroke="none"/>
<path d="M1243 1165 L1234 1165" stroke="#333" stroke-width="1"/>
<path d="M1252 1165 L1243 1163.0 L1243 1167.0 Z" fill="#000" stroke="none"/>
<path d="M1519.5 781.5 L1519.5 790.5" stroke="#333" stroke-width="1"/>
<path d="M1519.5 772.5 L1517.5 781.5 L1521.5 781.5 Z" fill="#000" stroke="none"/>
<path d="M1519.5 1001 L1519.5 992" stroke="#333" stroke-width="1"/>
<path d="M1519.5 1010 L1517.5 1001 L1521.5 1001 Z" fill="#000" stroke="none"/>
<path d="M1446 898.75 L1455 898.75" stroke="#333" stroke-width="1"/>
<path d="M1437 898.75 L1446 896.75 L1446 900.75 Z" fill="#000" stroke="none"/>
<path d="M1585.5 898.75 L1576.5 898.75" stroke="#333" stroke-width="1"/>
<path d="M1594.5 898.75 L1585.5 896.75 L1585.5 900.75 Z" fill="#000" stroke="none"/>
<path d="M1446 1092 L1455 1092" stroke="#333" stroke-width="1"/>
<path d="M1437 1092 L1446 1090.0 L1446 1094.0 Z" fill="#000" stroke="none"/>
<path d="M1767.5 977.25 L1767.5 986.25" stroke="#333" stroke-width="1"/>
<path d="M1767.5 968.25 L1765.5 977.25 L1769.5 977.25 Z" fill="#000" stroke="none"/>
<path d="M1823.25 1092.5 L1814.25 1092.5" stroke="#333" stroke-width="1"/>
<path d="M1832.25 1092.5 L1823.25 1090.5 L1823.25 1094.5 Z" fill="#000" stroke="none"/>
<path d="M1768 1254 L1768 1245" stroke="#333" stroke-width="1"/>
<path d="M1768 1263 L1766.0 1254 L1770.0 1254 Z" fill="#000" stroke="none"/>
<path d="M1446 1234.5 L1455 1234.5" stroke="#333" stroke-width="1"/>
<path d="M1437 1234.5 L1446 1232.5 L1446 1236.5 Z" fill="#000" stroke="none"/>
<path d="M1586.25 1234.5 L1577.25 1234.5" stroke="#333" stroke-width="1"/>
<path d="M1595.25 1234.5 L1586.25 1232.5 L1586.25 1236.5 Z" fill="#000" stroke="none"/>
<path d="M1496.25 1166 L1496.25 1175" stroke="#333" stroke-width="1"/>
<path d="M1496.25 1157 L1494.25 1166 L1498.25 1166 Z" fill="#000" stroke="none"/>
<path d="M1496.25 1338.5 L1496.25 1329.5" stroke="#333" stroke-width="1"/>
<path d="M1496.25 1347.5 L1494.25 1338.5 L1498.25 1338.5 Z" fill="#000" stroke="none"/>
<path d="M1957 1064.25 L1946 1064.25" stroke="#333" stroke-width="1"/>
<path d="M1966 1064.25 L1957 1062.25 L1957 1066.25 Z" fill="#000" stroke="none"/>
<path d="M1215 986.5 L1215 998.5" stroke="#333" stroke-width="1"/>
<path d="M1215 977.5 L1213.0 986.5 L1217.0 986.5 Z" fill="#000" stroke="none"/>
<path d="M1280.5 1195.75 L1270.0 1195.75" stroke="#333" stroke-width="1"/>
<path d="M1289.5 1195.75 L1280.5 1193.75 L1280.5 1197.75 Z" fill="#000" stroke="none"/>
<path d="M1876.5 1015 L1864.0 1015" stroke="#333" stroke-width="1"/>
<path d="M1885.5 1015 L1876.5 1013.0 L1876.5 1017.0 Z" fill="#000" stroke="none"/>
<path d="M292.25 1045.75 L289.75 1045.75" stroke="#333" stroke-width="1"/>
<path d="M301.25 1045.75 L292.25 1043.75 L292.25 1047.75 Z" fill="#000" stroke="none"/>
<path d="M1280 1057.25 L1280 1045.75" stroke="#333" stroke-width="1"/>
<path d="M1280 1066.25 L1278.0 1057.25 L1282.0 1057.25 Z" fill="#000" stroke="none"/>
<path d="M256.6 1288.7 L256.6 1307.4" stroke="#333" stroke-width="1"/>
<path d="M256.6 1279.7 L254.60000000000002 1288.7 L258.6 1288.7 Z" fill="#000" stroke="none"/>
<path d="M270.5 1257.9 L266.1 1270.7 L274.9 1270.7 Z" stroke-width="0" fill="#000"/>
<path d="M270.5 1270 L270.5 1279" stroke-width="1"/>
<path d="M256.4 1046.4 L256.4 1120.7" stroke-width="1"/>
<path d="M277.65 1025.7 L277.65 1105.4" stroke-width="1"/>
<path d="M290.75 1025.7 L290.75 1067.2" stroke-width="1"/>
<path d="M303.3 1025.7 L303.3 1067.2" stroke="#666" stroke-width="1"/>
<path d="M256.4 1046.4 L294 1046.4" stroke-width="1"/>
<path d="M236.3 1067.2 L316.2 1067.2" stroke-width="1"/>
<path d="M303.3 1025.7 L316.2 1067.2 L316.2 1069.5 L279.2 1069.5 L279.2 1105.4" stroke-width="1"/>
<path d="M236.3 1080 L277.65 1080" stroke-width="1"/>
<path d="M236.3 1092.5 L277.65 1092.5" stroke-width="1"/>
<path d="M236.3 1105.4 L279.8 1105.4 A6.9 6.9 0 0 1 279.8 1119.2 L236.3 1119.2" stroke-width="1" fill="none"/>
<path d="M183.75 1004.5 L183.75 989.25 L390.5 989.25 L390.5 953 L405.5 953" stroke-width="1"/>
<rect x="246.2" y="1278.8" width="49.5" height="25.7" stroke-width="1" fill="none"/>
<path d="M246.2 1291.9 L295.7 1291.9" stroke="#555" stroke-width="1.3"/>
<rect x="249.1" y="1271" width="2.4" height="5.5" stroke-width="0.7" fill="#fff"/>
<rect x="290.4" y="1271" width="2.2" height="5.5" stroke-width="0.7" fill="#fff"/>
<path d="M24.5 1123.3 L44.7 1123.3 Q47.7 1123.3 47.7 1126.3 L47.7 1157.4 Q47.7 1160.4 44.7 1160.4 L24.5 1160.4" stroke-width="1" fill="none"/>
<path d="M47.7 1128.9 L50.4 1131.2 L50.4 1152 L47.7 1154.3" stroke="#666" stroke-width="0.9"/>
<circle cx="29.1" cy="1142" r="3.6" stroke-width="1"/>
<path d="M422.1 1178 L455 1191.2 L458.4 1176 L468.7 1176" stroke-width="1"/>
<path d="M413.75 1258.3 L445.7 1258.3 L445.7 1317.8 L639.5 1317.8 L639.5 1307.4" stroke-width="1"/>
<rect x="502.1" y="1240.6" width="90.5" height="43.8" stroke-width="1" fill="none"/>
<rect x="526.5" y="1255.7" width="41.4" height="25.9" rx="1.2" stroke-width="1.4"/>
<circle cx="534.2" cy="1263.8" r="3.7" stroke-width="1.1"/>
<circle cx="534.2" cy="1263.8" r="2" stroke-width="0.8"/>
<circle cx="560.3" cy="1263.8" r="3.7" stroke-width="1.1"/>
<circle cx="560.3" cy="1263.8" r="2" stroke-width="0.8"/>
<circle cx="534.2" cy="1273.9" r="3.7" stroke-width="1.1"/>
<circle cx="534.2" cy="1273.9" r="2" stroke-width="0.8"/>
<circle cx="560.3" cy="1273.9" r="3.7" stroke-width="1.1"/>
<circle cx="560.3" cy="1273.9" r="2" stroke-width="0.8"/>
<circle cx="547.1" cy="1268.6" r="3.7" stroke-width="1.1"/>
<circle cx="547.1" cy="1268.6" r="2" stroke-width="0.8"/>
<rect x="461.6" y="1320.1" width="42.3" height="26.4" stroke-width="1" fill="none"/>
<rect x="462.8" y="1321.3" width="39.9" height="24.0" stroke-width="0.5" fill="none"/>
<rect x="463.6" y="1323.1999999999998" width="18.092499999999973" height="19.40000000000009" rx="1.5" stroke-width="0.9"/>
<path d="M483.2999 1323.1999999999998 L501.9 1323.1999999999998" stroke-width="0.9"/>
<path d="M483.2999 1325.9285714285713 L501.9 1325.9285714285713" stroke-width="0.9"/>
<path d="M483.2999 1328.6571428571426 L501.9 1328.6571428571426" stroke-width="0.9"/>
<path d="M483.2999 1331.3857142857141 L501.9 1331.3857142857141" stroke-width="0.9"/>
<path d="M483.2999 1334.1142857142856 L501.9 1334.1142857142856" stroke-width="0.9"/>
<path d="M483.2999 1336.842857142857 L501.9 1336.842857142857" stroke-width="0.9"/>
<path d="M483.2999 1339.5714285714284 L501.9 1339.5714285714284" stroke-width="0.9"/>
<path d="M483.2999 1342.3 L501.9 1342.3" stroke-width="0.9"/>
<circle cx="479.1545" cy="1332.5" r="1" stroke-width="0.7"/>
<path d="M639.5 1247.9 L628.2 1268.6 L639.5 1271.7" stroke-width="1"/>
<rect x="639.5" y="1276.6" width="30.1" height="30.8" stroke-width="1" fill="none"/>
<path d="M639.5 1276.6 L669.6 1307.4" stroke-width="1"/>
<path d="M669.6 1276.6 L639.5 1307.4" stroke-width="1"/>
<path d="M639.5 1242.5 L639.5 1224.3 L690.7 1224.3 L690.7 1237.8" stroke-width="1"/>
<path d="M690.7 1229.8 L698.8 1229.8 L712 1249.5 L712 1258.3" stroke-width="1"/>
<path d="M841.25 1107.5 L860 1141.25 L842.5 1145.5 L860 1150 L841.25 1183.75" stroke-width="1"/>
<rect x="868" y="971.25" width="104" height="30.75" stroke-width="1" fill="none"/>
<rect x="878" y="973.25" width="42" height="26.25" stroke-width="1" fill="none"/>
<rect x="879.2" y="974.45" width="39.6" height="23.85" stroke-width="0.5" fill="none"/>
<rect x="880" y="976.35" width="17.950000000000045" height="19.25" rx="1.5" stroke-width="0.9"/>
<path d="M899.546 976.35 L918 976.35" stroke-width="0.9"/>
<path d="M899.546 979.0571428571429 L918 979.0571428571429" stroke-width="0.9"/>
<path d="M899.546 981.7642857142857 L918 981.7642857142857" stroke-width="0.9"/>
<path d="M899.546 984.4714285714286 L918 984.4714285714286" stroke-width="0.9"/>
<path d="M899.546 987.1785714285714 L918 987.1785714285714" stroke-width="0.9"/>
<path d="M899.546 989.8857142857144 L918 989.8857142857144" stroke-width="0.9"/>
<path d="M899.546 992.5928571428572 L918 992.5928571428572" stroke-width="0.9"/>
<path d="M899.546 995.3000000000001 L918 995.3000000000001" stroke-width="0.9"/>
<circle cx="895.43" cy="985.575" r="1" stroke-width="0.7"/>
<rect x="1555.75" y="201.25" width="39.25" height="271.25" stroke-dasharray="10 3.5" stroke-width="1" stroke="#333"/>
<path d="M1555.75 201.25 L1573 318 M1595 201.25 L1577.5 318 M1555.75 472.5 L1573.5 356 M1595 472.5 L1577 356" stroke-dasharray="10 3.5" stroke-width="1" stroke="#333"/>
<circle cx="1076.25" cy="656.25" r="19.25" stroke-dasharray="10 3.5" stroke-width="1" stroke="#333"/>
<rect x="1057.5" y="690" width="62" height="40.75" stroke-dasharray="10 3.5" stroke-width="1" stroke="#333"/>
<circle cx="1196.75" cy="897.5" r="17.5" stroke-dasharray="6 2.5" stroke-width="1" stroke="#333"/>
<rect x="1353.75" y="1281.25" width="23.75" height="65" stroke-dasharray="10 3.5" stroke-width="1" stroke="#333"/>
<rect x="1667.25" y="1281.25" width="24.25" height="65" stroke-dasharray="10 3.5" stroke-width="1" stroke="#333"/>
<rect x="1078.5" y="970.4" width="7.5" height="20.1" stroke-width="0.9" fill="#fff"/>
<ellipse cx="1099" cy="980.4" rx="12.9" ry="9.2" stroke-width="0.9" fill="#fff" stroke="#222"/>
<ellipse cx="1099" cy="980.4" rx="11.4" ry="7.699999999999999" stroke-width="0.8" stroke="#222"/>
<path d="M1146.3999999999999 1017.7 L1146.3999999999999 1007.86 A13.2 10.56 0 0 1 1172.8 1007.86 L1172.8 1017.7" stroke-width="0.9" fill="#fff"/>
<path d="M1148.9999999999998 1010.2 L1148.9999999999998 1007.86 A10.6 8.260000000000002 0 0 1 1170.2 1007.86 L1170.2 1010.2 Q1170.2 1012.4000000000001 1167.8 1012.4000000000001 L1151.3999999999999 1012.4000000000001 Q1148.9999999999998 1012.4000000000001 1148.9999999999998 1010.2" stroke-width="0.9" fill="none"/>
<circle cx="1159.6" cy="1007.5" r="1.2" stroke-width="0.8"/>
<circle cx="1154.5" cy="1015.3000000000001" r="1.2" stroke-width="0.8"/>
<circle cx="1164.6999999999998" cy="1015.3000000000001" r="1.2" stroke-width="0.8"/>
<path d="M1198.8 970.6 L1210.1 981.4 L1198.8 992.6 L1207.9 1001.2" stroke-width="2.6" stroke-linejoin="miter"/>
<path d="M1198.8 970.6 L1210.1 981.4 L1198.8 992.6 L1207.9 1001.2" stroke-width="1.1" stroke="#fff" stroke-linejoin="miter"/>
<rect x="1207.4" y="959.1" width="3.4" height="7.2" stroke-width="0.8" fill="#fff"/>
<rect x="1207.4" y="1002.6" width="3.4" height="7.2" stroke-width="0.8" fill="#fff"/>
<path d="M1228.9 959.8 A2.6 2.6 0 0 0 1234.1 959.8 Z" stroke-width="0.9" fill="#999"/>
<path d="M1229.892 966.556 L1218.1 976.5" stroke-width="0.9" stroke="#333"/>
<path d="M1230.792 966.94 L1225.6 979.7" stroke-width="0.9" stroke="#333"/>
<path d="M1232.34 966.94 L1238.5 979.7" stroke-width="0.9" stroke="#333"/>
<path d="M1233.12 966.4960000000001 L1245.0 976.0" stroke-width="0.9" stroke="#333"/>
<path d="M1231.5 965.2 L1231.5 983.0" stroke-width="0.9" stroke="#666" stroke-dasharray="4 1.5"/>
<circle cx="1231.5" cy="987.3000000000001" r="1.1" stroke-width="0.8"/>
<path d="M1278.0 1163.2 A2.6 2.6 0 0 0 1283.1999999999998 1163.2 Z" stroke-width="0.9" fill="#999"/>
<path d="M1278.992 1169.9560000000001 L1269.6119999999999 1177.8660000000002" stroke-width="0.9" stroke="#333"/>
<path d="M1279.8919999999998 1170.3400000000001 L1275.762 1180.4900000000002" stroke-width="0.9" stroke="#333"/>
<path d="M1281.4399999999998 1170.3400000000001 L1286.34 1180.4900000000002" stroke-width="0.9" stroke="#333"/>
<path d="M1282.2199999999998 1169.8960000000002 L1291.6699999999998 1177.4560000000001" stroke-width="0.9" stroke="#333"/>
<path d="M1280.6 1168.6000000000001 L1280.6 1183.1960000000001" stroke-width="0.9" stroke="#666" stroke-dasharray="4 1.5"/>
<circle cx="1280.6" cy="1186.7220000000002" r="1.1" stroke-width="0.8"/>
<path d="M1303.6 1162.5 L1303.6 1199.2 L1297.8 1199.2 L1297.8 1201.5 L1305.7 1201.5 L1305.7 1162.5" stroke-width="1"/>
<rect x="1259.3" y="1198.5" width="5.4" height="2.3" stroke-width="0.8" fill="none"/>
<rect x="1261.6" y="1201.8" width="33.9" height="2.5" stroke-width="0.8" fill="none"/>
<rect x="1259.3" y="1221.6" width="85.3" height="36.4" stroke-width="1" fill="none"/>
<rect x="1263" y="1223.3" width="77.70000000000005" height="31.100000000000136" rx="15.550000000000068" stroke-width="1" stroke="#333"/>
<rect x="1264.4" y="1224.5" width="74.90000000000005" height="28.700000000000138" rx="14.350000000000069" stroke-width="0.8" stroke="#444"/>
<path d="M1277.85 1253.1000000000001 Q1301.85 1244.9 1325.85 1253.1000000000001" stroke-width="0.9" fill="none"/>
<path d="M1280.85 1253.4 Q1301.85 1247.9 1322.85 1253.4" stroke-width="0.7" fill="none"/>
<circle cx="1301.85" cy="1247.4" r="1.2" stroke-width="0.8" fill="#fff"/>
<circle cx="1296.75" cy="1255.3000000000002" r="1.2" stroke-width="0.8" fill="#fff"/>
<circle cx="1306.9499999999998" cy="1255.3000000000002" r="1.2" stroke-width="0.8" fill="#fff"/>
<path d="M1421.2 1211.7 L1421.2 1258 M1422.7 1211.7 L1422.7 1258" stroke="#777" stroke-width="0.8"/>
<ellipse cx="1408.5" cy="1234.9" rx="12.2" ry="9.5" stroke-width="0.9" fill="#fff" stroke="#222"/>
<ellipse cx="1408.5" cy="1234.9" rx="10.7" ry="8.0" stroke-width="0.8" stroke="#222"/>
<path d="M338.05 1347.9 L338.05 1338.06 A13.2 10.56 0 0 1 364.45 1338.06 L364.45 1347.9" stroke-width="0.9" fill="#fff"/>
<path d="M340.65000000000003 1340.4 L340.65000000000003 1338.06 A10.6 8.260000000000002 0 0 1 361.84999999999997 1338.06 L361.84999999999997 1340.4 Q361.84999999999997 1342.6000000000001 359.45 1342.6000000000001 L343.05 1342.6000000000001 Q340.65000000000003 1342.6000000000001 340.65000000000003 1340.4" stroke-width="0.9" fill="none"/>
<circle cx="351.25" cy="1337.7" r="1.2" stroke-width="0.8"/>
<circle cx="346.15" cy="1345.5" r="1.2" stroke-width="0.8"/>
<circle cx="356.35" cy="1345.5" r="1.2" stroke-width="0.8"/>
<path d="M1867.6000000000001 969.1999999999999 A2.6 2.6 0 0 0 1872.8 969.1999999999999 Z" stroke-width="0.9" fill="#999"/>
<path d="M1868.592 975.956 L1857.47 985.335" stroke-width="0.9" stroke="#333"/>
<path d="M1869.492 976.34 L1864.595 988.375" stroke-width="0.9" stroke="#333"/>
<path d="M1871.04 976.34 L1876.8500000000001 988.375" stroke-width="0.9" stroke="#333"/>
<path d="M1871.82 975.8960000000001 L1883.025 984.86" stroke-width="0.9" stroke="#333"/>
<path d="M1870.2 974.6 L1870.2 991.51" stroke-width="0.9" stroke="#666" stroke-dasharray="4 1.5"/>
<circle cx="1870.2" cy="995.595" r="1.1" stroke-width="0.8"/>
<rect x="1845.7" y="1020.1" width="46.7" height="2.7" stroke-width="0.8" fill="none"/>
<rect x="1841.6" y="1018" width="9.3" height="2" stroke-width="0.8" fill="none"/>
<rect x="1897.6" y="1018" width="7.9" height="2.4" stroke-width="0.8" fill="none"/>
<path d="M1943.8 1033 L1929.3 1061.2 L1943.3 1063.6 L1929.3 1066.8 L1943.8 1095.2" stroke-width="1"/>
<rect x="1841.2" y="1125.9" width="20.5" height="28.4" stroke-width="0.9" fill="none"/>
<rect x="1841.2" y="1154.3" width="20.5" height="28.0" stroke-width="0.9" fill="none"/>
<ellipse cx="1851.5" cy="1139.4" rx="7.3" ry="9.7" stroke-width="0.9"/>
<path d="M1842.5 1136.8000000000002 L1846.5 1136.8000000000002 M1842.5 1142.0 L1846.5 1142.0 M1843 1139.4 L1849 1139.4" stroke-width="1.1" stroke="#444"/>
<ellipse cx="1851.5" cy="1167.4" rx="7.3" ry="9.7" stroke-width="0.9"/>
<path d="M1842.5 1164.8000000000002 L1846.5 1164.8000000000002 M1842.5 1170.0 L1846.5 1170.0 M1843 1167.4 L1849 1167.4" stroke-width="1.1" stroke="#444"/>
<rect x="1936.6" y="1147.3" width="7.2" height="20.1" stroke-width="0.9" fill="#fff"/>
<ellipse cx="1922.5" cy="1157.2" rx="12.5" ry="9.1" stroke-width="0.9" fill="#fff" stroke="#222"/>
<ellipse cx="1922.5" cy="1157.2" rx="11.0" ry="7.6" stroke-width="0.8" stroke="#222"/>
<path d="M1840.6 1227.5 L1943.8 1227.5" stroke-width="1"/>
<rect x="1854.7" y="1228.6" width="77.70000000000005" height="31.100000000000136" rx="15.550000000000068" stroke-width="1" stroke="#333"/>
<rect x="1856.1000000000001" y="1229.8" width="74.90000000000005" height="28.700000000000138" rx="14.350000000000069" stroke-width="0.8" stroke="#444"/>
<path d="M1869.5500000000002 1258.4 Q1893.5500000000002 1250.2 1917.5500000000002 1258.4" stroke-width="0.9" fill="none"/>
<path d="M1872.5500000000002 1258.7 Q1893.5500000000002 1253.2 1914.5500000000002 1258.7" stroke-width="0.7" fill="none"/>
<circle cx="1893.5500000000002" cy="1252.7" r="1.2" stroke-width="0.8" fill="#fff"/>
<circle cx="1888.4500000000003" cy="1260.6000000000001" r="1.2" stroke-width="0.8" fill="#fff"/>
<circle cx="1898.65" cy="1260.6000000000001" r="1.2" stroke-width="0.8" fill="#fff"/>
<path d="M1610.5 1229.25 L1721.5 1229.25 L1721.5 1263" stroke-width="1"/>
<path d="M1437 1292.5 L1452.5 1297.5 L1437 1332.5" stroke-width="1"/>
<path d="M1596 1285 L1583.5 1310 L1594.75 1313 L1583.5 1315.5 L1596 1342.5" stroke-width="1"/>
<rect x="1596" y="1283.75" width="4.2" height="2.75" stroke-width="0.7" fill="#fff"/>
<rect x="1596" y="1340" width="4.2" height="2.8" stroke-width="0.7" fill="#fff"/>
<path d="M1326.25 788 L1428.75 788" stroke-width="1"/>
<path d="M1258.75 1023.25 L1390.75 1023.25 L1390.75 1092.5 L1258.75 1092.5" stroke-width="1"/>
<path d="M1258.75 1025.75 L1428.75 1025.75" stroke-width="1"/>
<path d="M1258.75 1066.25 L1428.75 1066.25" stroke-width="1"/>
<path d="M1300.75 1045.5 L1410.75 1045.5" stroke-width="1"/>
<path d="M1410.75 1023.25 L1410.75 1067.5" stroke-width="1"/>
<path d="M1300.75 1025.75 L1300.75 1066.25" stroke-width="1"/>
<path d="M1313.25 1025.75 L1313.25 1066.25" stroke-width="1"/>
<path d="M1326.25 1025.75 L1326.25 1066.25" stroke-width="1"/>
<path d="M1339.25 1025.75 L1339.25 1066.25" stroke-width="1"/>
<path d="M1352.5 1025.75 L1352.5 1066.25" stroke-width="1"/>
<path d="M1365 1025.75 L1365 1066.25" stroke-width="1"/>
<path d="M1378 1025.75 L1378 1066.25" stroke-width="1"/>
<path d="M1258.75 1025.75 L1300.75 1066.25 L1258.75 1080" stroke-width="1"/>
<path d="M1300.75 1066.25 L1300.75 1090" stroke-width="1"/>
<path d="M1258.75 1090 L1390.75 1090" stroke-width="1"/>
<rect x="1302.5" y="1069.5" width="85.0" height="20.0" stroke-width="1" fill="none"/>
<path d="M1704 998.8 L1682.8 1009.1 L1680.2 1000.3 L1678.4 1009.1 L1657.2 998.8" stroke-width="1"/>
<path d="M1647.6 999.5 L1640 1023.3 L1629.3 1017.9" stroke-width="1"/>
<path d="M1608 1058.4 L1621.5 1046" stroke-width="2.6"/>
<path d="M1489.5 1058.4 L1508.8 1067.7 L1509.9 1059.9 L1511.4 1067.7 L1529 1058.4 L1546.9 1067.7 L1548.8 1059.6 L1550.2 1067.7 L1567.8 1058.4 L1585.4 1067.7 L1587.3 1059.6 L1589 1067.7 L1607.4 1058.4" stroke-width="1"/>
<path d="M1488 1059.6 L1480 1081.6 L1469.7 1075.7" stroke-width="1"/>
<path d="M1480 1081.6 L1470.4 1101.4" stroke-width="1"/>
<path d="M1471.5 1077 L1480 1081.6 L1472 1080.3" stroke-width="1"/>
<rect x="375.1" y="1340.2" width="21.6" height="8.1" stroke-width="0.9" fill="#fff"/>
<ellipse cx="385.6" cy="1327.6" rx="9.6" ry="12.65" stroke-width="0.9" fill="#fff" stroke="#222"/>
<ellipse cx="385.6" cy="1327.6" rx="8.1" ry="11.15" stroke-width="0.8" stroke="#222"/>
</g>
<g fill="#000" font-family="'Liberation Sans', Arial, sans-serif">
<text x="1005.5" y="36.8" font-size="48.65" text-anchor="middle" font-weight="bold" >New Road, Billingshurst, West Sussex, RH14</text>
<text x="1006.5" y="87" font-size="29.1" text-anchor="middle" font-weight="normal" >Approximate Gross Internal Area = 322.7 sq m / 3474 sq ft</text>
<text x="1008" y="122.5" font-size="29.1" text-anchor="middle" font-weight="normal" >Outbuilding = 54.6 sq m / 588 sq ft</text>
<text x="1008.5" y="158" font-size="29.1" text-anchor="middle" font-weight="normal" >Total = 377.3 sq m / 4062 sq ft</text>
<text x="3" y="1312.5" font-size="24.9" text-anchor="start" font-weight="bold" >Ground Floor</text>
<text x="1056.5" y="1312.5" font-size="24.9" text-anchor="start" font-weight="bold" >First Floor</text>
<text x="1056.5" y="595" font-size="24.95" text-anchor="start" font-weight="bold" >Outbuilding</text>
<text x="1057" y="562.5" font-size="16.37" text-anchor="start" font-weight="normal" >(Not Shown In Actual Location / Orientation)</text>
<text x="1129.25" y="714.25" font-size="14.34" text-anchor="start" font-weight="normal" >= Reduced headroom below 1.5m / 5'0</text>
<text x="1103.75" y="658" font-size="10.5" text-anchor="start" font-weight="normal" >=</text>
<text x="1115" y="658" font-size="10.16" text-anchor="start" font-weight="normal" >Ceiling Height</text>
<text x="1076.25" y="660" font-size="10.8" text-anchor="middle" font-weight="normal" >CH</text>
<text x="1007" y="1421.7" font-size="26.75" text-anchor="middle" font-weight="normal" >Floor plan produced in accordance with RICS Property Measurement Standards incorporating</text>
<text x="1007.7" y="1454" font-size="26.7" text-anchor="middle" font-weight="normal" >International Property Measurement Standards (IPMS2 Residential).</text>
<text x="1007.8" y="1485.8" font-size="26.8" text-anchor="middle" font-weight="normal" >Produced for John D Wood &amp; Co by IDENTIKA LTD</text>
<text x="589.25" y="239.35" font-size="15.5" text-anchor="middle" font-weight="normal" >Garden Room</text>
<text x="589.25" y="258.6" font-size="15.5" text-anchor="middle" font-weight="normal" >5.46 x 3.66</text>
<text x="589.25" y="278.1" font-size="15.5" text-anchor="middle" font-weight="normal" >17'11 x 12'0</text>
<text x="630.75" y="602.6" font-size="14.15" text-anchor="middle" font-weight="normal" >Study</text>
<text x="630.75" y="619.6" font-size="14.15" text-anchor="middle" font-weight="normal" >4.29 x 1.75</text>
<text x="630.75" y="637.35" font-size="14.15" text-anchor="middle" font-weight="normal" >14'1 x 5'9</text>
<text x="231.75" y="877.35" font-size="16.15" text-anchor="middle" font-weight="normal" >Reception Room</text>
<text x="231.75" y="896.85" font-size="16.15" text-anchor="middle" font-weight="normal" >6.78 x 4.50</text>
<text x="231.75" y="917.35" font-size="16.15" text-anchor="middle" font-weight="normal" >22'3 x 14'9</text>
<text x="493.25" y="874.85" font-size="16.15" text-anchor="middle" font-weight="normal" >Dining Room</text>
<text x="493.25" y="894.35" font-size="16.15" text-anchor="middle" font-weight="normal" >4.50 x 3.00</text>
<text x="493.25" y="914.35" font-size="16.15" text-anchor="middle" font-weight="normal" >14'9 x 9'10</text>
<text x="142" y="1125.6" font-size="16.15" text-anchor="middle" font-weight="normal" >Lounge</text>
<text x="142" y="1145.1" font-size="16.15" text-anchor="middle" font-weight="normal" >4.52 x 3.35</text>
<text x="142" y="1165.1" font-size="16.15" text-anchor="middle" font-weight="normal" >14'10 x 11'0</text>
<text x="322.5" y="1158.6" font-size="16.15" text-anchor="middle" font-weight="normal" >Entrance Hall</text>
<text x="322.5" y="1178.6" font-size="16.15" text-anchor="middle" font-weight="normal" >4.57 x 3.28</text>
<text x="322.5" y="1198.1" font-size="16.15" text-anchor="middle" font-weight="normal" >15'0 x 10'9</text>
<text x="501.25" y="1074.35" font-size="16.15" text-anchor="middle" font-weight="normal" >Snug</text>
<text x="501.25" y="1093.6" font-size="16.15" text-anchor="middle" font-weight="normal" >3.28 x 2.44</text>
<text x="501.25" y="1113.6" font-size="16.15" text-anchor="middle" font-weight="normal" >10'9 x 8'0</text>
<text x="699.25" y="1099.85" font-size="16.15" text-anchor="middle" font-weight="normal" >Breakfast Room</text>
<text x="699.25" y="1119.35" font-size="16.15" text-anchor="middle" font-weight="normal" >5.56 x 4.04</text>
<text x="699.25" y="1138.85" font-size="16.15" text-anchor="middle" font-weight="normal" >18'3 x 13'3</text>
<text x="547.5" y="1195.6" font-size="16.15" text-anchor="middle" font-weight="normal" >Kitchen</text>
<text x="547.5" y="1215.6" font-size="16.15" text-anchor="middle" font-weight="normal" >4.85 x 3.30</text>
<text x="547.5" y="1235.1" font-size="16.15" text-anchor="middle" font-weight="normal" >15'11 x 10'10</text>
<text x="903.75" y="1096.85" font-size="16.15" text-anchor="middle" font-weight="normal" >Utility</text>
<text x="903.75" y="1116.85" font-size="16.15" text-anchor="middle" font-weight="normal" >5.54 x 3.12</text>
<text x="903.75" y="1136.35" font-size="16.15" text-anchor="middle" font-weight="normal" >18'2 x 10'3</text>
<text x="1150" y="329.35" font-size="16.15" text-anchor="middle" font-weight="normal" >Garage</text>
<text x="1150" y="349.35" font-size="16.15" text-anchor="middle" font-weight="normal" >5.33 x 2.90</text>
<text x="1150" y="369.35" font-size="16.15" text-anchor="middle" font-weight="normal" >17'6 x 9'6</text>
<text x="1389.5" y="326.85" font-size="16.15" text-anchor="middle" font-weight="normal" >Garage</text>
<text x="1389.5" y="346.85" font-size="16.15" text-anchor="middle" font-weight="normal" >5.79 x 5.33</text>
<text x="1389.5" y="366.85" font-size="16.15" text-anchor="middle" font-weight="normal" >19'0 x 17'6</text>
<text x="1573.75" y="333.1" font-size="14.2" text-anchor="middle" font-weight="normal" >Log</text>
<text x="1573.75" y="350.1" font-size="14.2" text-anchor="middle" font-weight="normal" >Store</text>
<text x="1198.75" y="836.35" font-size="16.15" text-anchor="middle" font-weight="normal" >Bedroom</text>
<text x="1198.75" y="856.1" font-size="16.15" text-anchor="middle" font-weight="normal" >4.62 x 3.30</text>
<text x="1198.75" y="875.6" font-size="16.15" text-anchor="middle" font-weight="normal" >15'2 x 10'10</text>
<text x="1516.25" y="880.1" font-size="16.15" text-anchor="middle" font-weight="normal" >Bedroom</text>
<text x="1516.25" y="899.6" font-size="16.15" text-anchor="middle" font-weight="normal" >4.50 x 3.05</text>
<text x="1516.25" y="919.35" font-size="16.15" text-anchor="middle" font-weight="normal" >14'9 x 10'0</text>
<text x="1165.5" y="1123.1" font-size="16.15" text-anchor="middle" font-weight="normal" >Bedroom</text>
<text x="1165.5" y="1142.6" font-size="16.15" text-anchor="middle" font-weight="normal" >4.50 x 3.33</text>
<text x="1165.5" y="1162.6" font-size="16.15" text-anchor="middle" font-weight="normal" >14'9 x 10'11</text>
<text x="1516.75" y="1241.85" font-size="16.15" text-anchor="middle" font-weight="normal" >Bedroom</text>
<text x="1516.75" y="1261.85" font-size="16.15" text-anchor="middle" font-weight="normal" >3.71 x 3.10</text>
<text x="1516.75" y="1281.35" font-size="16.15" text-anchor="middle" font-weight="normal" >12'2 x 10'2</text>
<text x="1710.25" y="1107.35" font-size="16.15" text-anchor="middle" font-weight="normal" >Bedroom</text>
<text x="1710.25" y="1126.85" font-size="16.15" text-anchor="middle" font-weight="normal" >7.62 x 5.69</text>
<text x="1710.25" y="1146.85" font-size="16.15" text-anchor="middle" font-weight="normal" >25'0 x 18'8</text>
<text x="1995.25" y="1060" font-size="16.15" text-anchor="middle" font-weight="normal" >To</text>
<text x="1994.25" y="1080" font-size="16.15" text-anchor="middle" font-weight="normal" >Eaves</text>
<text x="1409.5" y="1018.3" font-size="16" text-anchor="middle" font-weight="normal" >Dn</text>
<text x="1409.5" y="1082.8" font-size="16" text-anchor="middle" font-weight="normal" >Dn</text>
<text x="255.9" y="1135.6" font-size="16" text-anchor="middle" font-weight="normal" >Up</text>
<text x="270.9" y="1294.6" font-size="16" text-anchor="middle" font-weight="normal" >IN</text>
<text x="653.25" y="1265" font-size="16.15" text-anchor="middle" font-weight="normal" >F</text>
<text x="1196.75" y="894.5" font-size="7.2" text-anchor="middle" font-weight="normal" >CH</text>
<text x="1196.75" y="905.5" font-size="6.6" text-anchor="middle" font-weight="normal" >7'6/2.29</text>
</g>
<g transform="translate(1900.9 62.6) rotate(-35.7)"><g fill="none" stroke="#222" stroke-width="1"><circle cx="0" cy="0" r="17.4" fill="none"/><path d="M-7.6 -15.7 L0 -64.4 L7.6 -15.7"/><path d="M19.2 0 L26.8 0 M-19.2 0 L-26.8 0"/><path d="M-12.2 12.5 L-12.2 23 L13.6 23 L13.6 11"/><path d="M61.80 0.00 A61.8 61.8 0 0 1 -61.80 0.00"/><path d="M53.70 0.00 A53.7 53.7 0 0 1 -53.70 0.00"/><path d="M57.70 0.00 A57.7 57.7 0 0 1 0.00 57.70"/><path d="M43.4 0 L61.8 0 M-43.4 0 L-61.8 0"/><path d="M37.97 37.97 L43.70 43.70"/><path d="M0.00 53.70 L0.00 61.80"/><path d="M-37.97 37.97 L-43.70 43.70"/></g><g fill="#000" stroke="none" font-family="'Liberation Sans', Arial, sans-serif"><text x="0" y="9.3" font-size="26" text-anchor="middle">N</text><text x="66" y="6.2" font-size="24" text-anchor="start">am</text><text transform="rotate(45)" x="66" y="6.2" font-size="24" text-anchor="start">mid am</text><text transform="rotate(270)" x="-66" y="6.2" font-size="24" text-anchor="end">noon</text><text transform="rotate(315)" x="-66" y="6.2" font-size="24" text-anchor="end">mid pm</text><text transform="rotate(0)" x="-66" y="6.2" font-size="24" text-anchor="end">pm</text></g></g>
</svg>
</body></html>
